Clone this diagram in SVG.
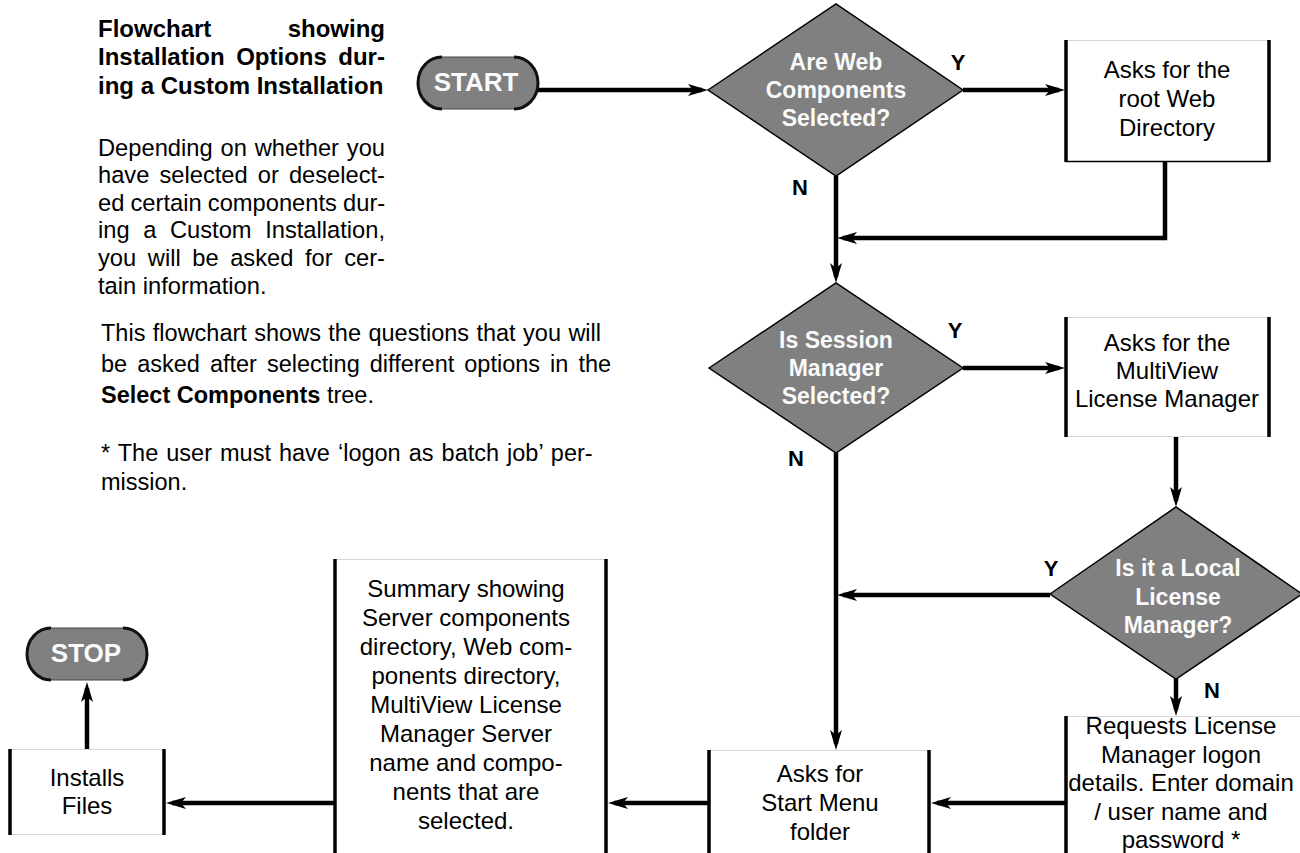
<svg xmlns="http://www.w3.org/2000/svg" width="1300" height="853" viewBox="0 0 1300 853">
<defs>
<style>
.txt{font-family:"Liberation Sans",Arial,sans-serif;font-size:23.7px;fill:#000}
.ttl{font-family:"Liberation Sans",Arial,sans-serif;font-size:24px;font-weight:bold;fill:#000}
.bold{font-weight:bold}
.b2{font-family:"Liberation Sans",Arial,sans-serif;font-size:23.5px;fill:#000}
.ntxt{font-family:"Liberation Sans",Arial,sans-serif;font-size:24px;fill:#000;text-anchor:middle}
.dtxt{font-family:"Liberation Sans",Arial,sans-serif;font-size:23px;font-weight:bold;fill:#fafafa;text-anchor:middle}
.lbl{font-family:"Liberation Sans",Arial,sans-serif;font-size:22px;font-weight:bold;fill:#000;text-anchor:middle}
.ptxt{font-family:"Liberation Sans",Arial,sans-serif;font-size:26px;font-weight:bold;fill:#fafafa;text-anchor:middle}
.dia{fill:#808080;stroke:#000;stroke-width:1.5}
.pill{fill:#808080;stroke:#444;stroke-width:1}
.pillside{fill:none;stroke:#111;stroke-width:3}
.bfill{fill:#fff;stroke:none}
.bside{stroke:#000;stroke-width:3.5}
.bedge{stroke:#d8d8d8;stroke-width:1.2}
.arr{fill:none;stroke:#000;stroke-width:4.5;marker-end:url(#ah)}
</style>
<marker id="ah" markerUnits="userSpaceOnUse" viewBox="-16 -8 24 16" refX="0" refY="0" markerWidth="24" markerHeight="16" orient="auto">
<path d="M6,0 L-14,-6 L-9,0 L-14,6 Z" fill="#000"/>
</marker>
</defs>
<rect width="1300" height="853" fill="#fff"/>

<g id="intro-text">
<text class="ttl" x="98" y="36.5">Flowchart</text>
<text class="ttl" x="385" y="36.5" text-anchor="end">showing</text>
<text class="ttl" x="98" y="65" word-spacing="4.8">Installation Options dur-</text>
<text class="ttl" x="98" y="93.5">ing a Custom Installation</text>
<text class="txt" x="98" y="155.5" word-spacing="1.3">Depending on whether you</text>
<text class="txt" x="98" y="183" word-spacing="3.5">have selected or deselect-</text>
<text class="txt" x="98" y="210.5" word-spacing="-0.4">ed certain components dur-</text>
<text class="txt" x="98" y="238" word-spacing="7">ing a Custom Installation,</text>
<text class="txt" x="98" y="266" word-spacing="5">you will be asked for cer-</text>
<text class="txt" x="98" y="293.5">tain information.</text>
<text class="b2" x="101" y="341" word-spacing="0.9">This flowchart shows the questions that you will</text>
<text class="b2" x="101" y="372" word-spacing="3.5">be asked after selecting different options in the</text>
<text class="b2" x="101" y="403"><tspan class="bold">Select Components</tspan> tree.</text>
<text class="b2" x="101" y="461" word-spacing="1.5">* The user must have ‘logon as batch job’ per-</text>
<text class="b2" x="101" y="490">mission.</text>
</g>

<g id="connectors">
<path class="arr" d="M538,90 H702"/>
<path class="arr" d="M963,90 H1059"/>
<path class="arr" d="M1165,162 V238 H843"/>
<path class="arr" d="M836,176 V277"/>
<path class="arr" d="M963,368 H1059"/>
<path class="arr" d="M1176,437 V501"/>
<path class="arr" d="M1050,595 H843"/>
<path class="arr" d="M1176,679 V710"/>
<path class="arr" d="M836,453 V744"/>
<path class="arr" d="M1065,803 H937"/>
<path class="arr" d="M708,803 H614"/>
<path class="arr" d="M334,803 H172"/>
<path class="arr" d="M87,749 V688"/>
</g>

<g id="labels">
<text class="lbl" x="958" y="70">Y</text>
<text class="lbl" x="800" y="195">N</text>
<text class="lbl" x="955" y="338">Y</text>
<text class="lbl" x="796" y="466">N</text>
<text class="lbl" x="1051" y="576">Y</text>
<text class="lbl" x="1212" y="698">N</text>
</g>

<g id="start">
<rect class="pill" x="418" y="57" width="120" height="52" rx="24" ry="26"/>
<path class="pillside" d="M442,57 A24,26 0 0 0 442,109 M514,57 A24,26 0 0 1 514,109"/>
<text class="ptxt" x="476" y="91">START</text>
</g>

<g id="q-web">
<polygon class="dia" points="708,90 836,4 963,90 836,176"/>
<text class="dtxt" x="836" y="70">Are Web</text>
<text class="dtxt" x="836" y="98">Components</text>
<text class="dtxt" x="836" y="126">Selected?</text>
</g>

<g id="ask-web-dir">
<rect class="bfill" x="1065" y="40" width="205" height="122"/>
<line class="bedge" x1="1065" y1="40.5" x2="1270" y2="40.5"/>
<line x1="1065" y1="161.5" x2="1270" y2="161.5" stroke="#000" stroke-width="1.5"/>
<line class="bside" x1="1066" y1="40" x2="1066" y2="162"/>
<line class="bside" x1="1269" y1="40" x2="1269" y2="162"/>
<text class="ntxt" x="1167" y="77.5">Asks for the</text>
<text class="ntxt" x="1167" y="106.5">root Web</text>
<text class="ntxt" x="1167" y="135.5">Directory</text>
</g>

<g id="q-session">
<polygon class="dia" points="709,368 836,283 963,368 836,453"/>
<text class="dtxt" x="836" y="348">Is Session</text>
<text class="dtxt" x="836" y="376">Manager</text>
<text class="dtxt" x="836" y="404">Selected?</text>
</g>

<g id="ask-license-mgr">
<rect class="bfill" x="1065" y="317" width="205" height="120"/>
<line class="bedge" x1="1065" y1="317.5" x2="1270" y2="317.5"/>
<line class="bedge" x1="1065" y1="436.5" x2="1270" y2="436.5"/>
<line class="bside" x1="1066" y1="317" x2="1066" y2="437"/>
<line class="bside" x1="1269" y1="317" x2="1269" y2="437"/>
<text class="ntxt" x="1167" y="350.5">Asks for the</text>
<text class="ntxt" x="1167" y="378.5">MultiView</text>
<text class="ntxt" x="1167" y="406.5">License Manager</text>
</g>

<g id="q-local">
<polygon class="dia" points="1050,594 1176,507 1302,594 1176,679"/>
<text class="dtxt" x="1178" y="576">Is it a Local</text>
<text class="dtxt" x="1178" y="605">License</text>
<text class="dtxt" x="1178" y="633">Manager?</text>
</g>

<g id="request-logon">
<rect class="bfill" x="1065" y="716" width="235" height="137"/>
<line class="bedge" x1="1065" y1="716.5" x2="1300" y2="716.5"/>
<line class="bside" x1="1066" y1="716" x2="1066" y2="853"/>
<text class="ntxt" x="1181" y="734">Requests License</text>
<text class="ntxt" x="1181" y="762.5">Manager logon</text>
<text class="ntxt" x="1181" y="791">details. Enter domain</text>
<text class="ntxt" x="1181" y="819.5">/ user name and</text>
<text class="ntxt" x="1181" y="848">password *</text>
</g>

<g id="ask-start-menu">
<rect class="bfill" x="708" y="750" width="222" height="103"/>
<line class="bedge" x1="708" y1="750.5" x2="930" y2="750.5"/>
<line class="bside" x1="709" y1="750" x2="709" y2="853"/>
<line class="bside" x1="929" y1="750" x2="929" y2="853"/>
<text class="ntxt" x="820" y="781.5">Asks for</text>
<text class="ntxt" x="820" y="810.5">Start Menu</text>
<text class="ntxt" x="820" y="840">folder</text>
</g>

<g id="summary">
<rect class="bfill" x="334" y="559" width="273" height="294"/>
<line class="bedge" x1="334" y1="559.5" x2="607" y2="559.5"/>
<line class="bside" x1="335" y1="559" x2="335" y2="853"/>
<line class="bside" x1="606" y1="559" x2="606" y2="853"/>
<text class="ntxt" x="466" y="596.5">Summary showing</text>
<text class="ntxt" x="466" y="625.5">Server components</text>
<text class="ntxt" x="466" y="654.5">directory, Web com-</text>
<text class="ntxt" x="466" y="683.5">ponents directory,</text>
<text class="ntxt" x="466" y="712.5">MultiView License</text>
<text class="ntxt" x="466" y="741.5">Manager Server</text>
<text class="ntxt" x="466" y="770.5">name and compo-</text>
<text class="ntxt" x="466" y="799.5">nents that are</text>
<text class="ntxt" x="466" y="828.5">selected.</text>
</g>

<g id="installs">
<rect class="bfill" x="9" y="749" width="156" height="86"/>
<line class="bedge" x1="9" y1="749.5" x2="165" y2="749.5"/>
<line class="bedge" x1="9" y1="834.5" x2="165" y2="834.5"/>
<line class="bside" x1="10" y1="749" x2="10" y2="835"/>
<line class="bside" x1="164" y1="749" x2="164" y2="835"/>
<text class="ntxt" x="87" y="785.5">Installs</text>
<text class="ntxt" x="87" y="813.5">Files</text>
</g>

<g id="stop">
<rect class="pill" x="27" y="628" width="120" height="52" rx="24" ry="26"/>
<path class="pillside" d="M51,628 A24,26 0 0 0 51,680 M123,628 A24,26 0 0 1 123,680"/>
<text class="ptxt" x="86" y="662">STOP</text>
</g>
</svg>
